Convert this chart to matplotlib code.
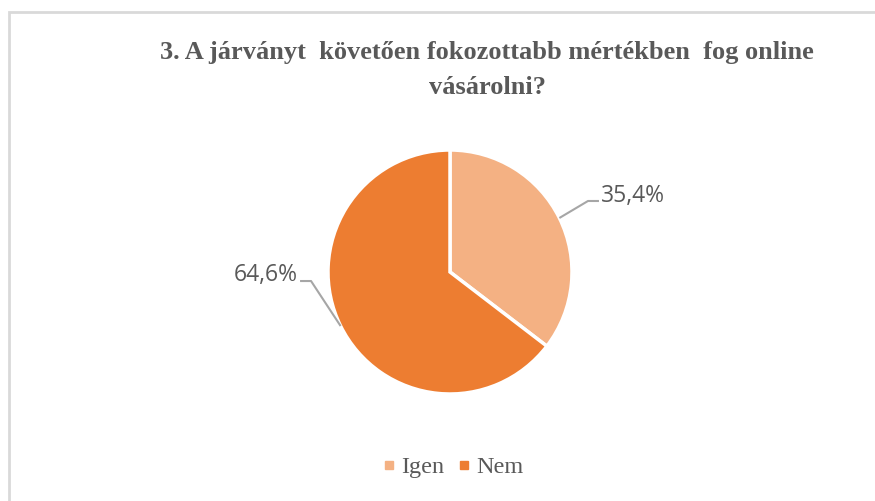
import numpy as np
import matplotlib
matplotlib.use("Agg")
import matplotlib.pyplot as plt
from matplotlib.patches import Rectangle
from matplotlib.lines import Line2D

title = "3. A járványt  követően fokozottabb mértékben  fog online\nvásárolni?"
categories = ["Igen", "Nem"]
values = [35.4, 64.6]
labels = ["35,4%", "64,6%"]
colors = ["#F4B183", "#ED7D31"]
text_color = "#595959"

W, H = 875, 501
fig = plt.figure(figsize=(W / 100, H / 100), dpi=100)
fig.patch.set_facecolor("white")

# chart border (cropped at right/bottom)
fig.patches.append(Rectangle((9 / W, -0.1), 1.2, (H - 12) / H + 0.1,
                             transform=fig.transFigure, fill=False,
                             edgecolor="#D9D9D9", linewidth=2, clip_on=False))

cx, cy, r = 450, 272, 122
ax = fig.add_axes([(cx - r) / W, (H - cy - r) / H, 2 * r / W, 2 * r / H])

wedges, _ = ax.pie(values, colors=colors, startangle=90, counterclock=False,
                   radius=1, wedgeprops=dict(edgecolor="white", linewidth=2.5))
ax.set_xlim(-1, 1)
ax.set_ylim(-1, 1)
ax.set_aspect("equal")
ax.axis("off")

line_c = "#A6A6A6"
for i, w in enumerate(wedges):
    ang = np.deg2rad((w.theta1 + w.theta2) / 2)
    x0, y0 = np.cos(ang), np.sin(ang)
    if x0 > 0:
        ex, ey = 1.131, 0.582
        tx = ex + 0.09
        ax.plot([x0, ex, tx], [y0, ey, ey], color=line_c, lw=1.5, clip_on=False,
                solid_capstyle="butt")
        ax.text(tx + 0.015, ey + 0.045, labels[i], ha="left", va="center",
                fontsize=16.5, color=text_color, family="Open Sans")
    else:
        ex, ey = -1.139, -0.074
        tx = ex - 0.09
        ax.plot([x0, ex, tx], [y0, ey, ey], color=line_c, lw=1.5, clip_on=False,
                solid_capstyle="butt")
        ax.text(tx - 0.015, ey + 0.05, labels[i], ha="right", va="center",
                fontsize=16.5, color=text_color, family="Open Sans")

fig.text(487 / W, 1 - 70 / H, title, ha="center", va="center",
         fontsize=19, fontweight="bold", color=text_color,
         family="Liberation Serif", linespacing=1.62)

handles = [Line2D([], [], linestyle="none", marker="s", markersize=5.5,
                  markerfacecolor=c, markeredgecolor=c) for c in colors]
fig.legend(handles, categories, loc="center", bbox_to_anchor=(453 / W, 1 - 467 / H),
           ncol=2, frameon=False, handlelength=0.5,
           handletextpad=0.25, columnspacing=0.55,
           prop=dict(family="Liberation Serif", size=17.5), labelcolor=text_color)

fig.savefig("out.png", dpi=100, facecolor="white")
